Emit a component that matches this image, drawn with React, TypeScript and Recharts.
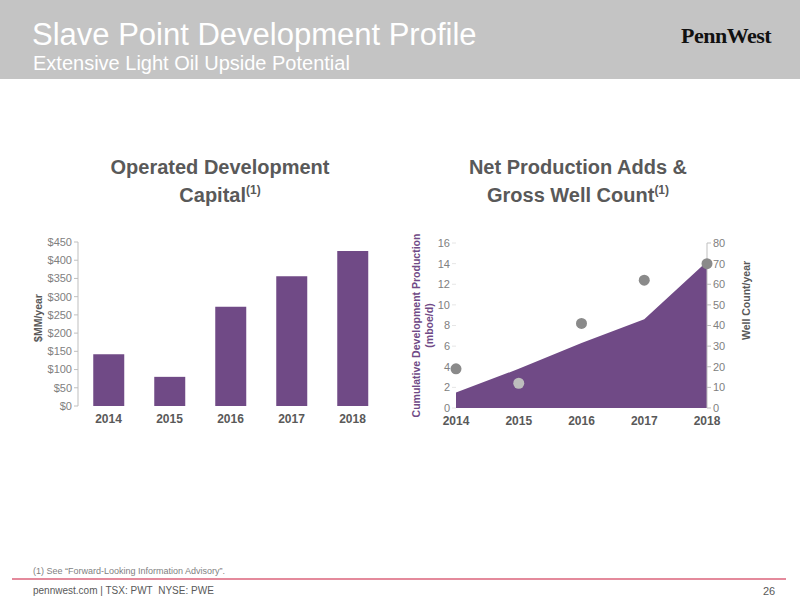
import React from "react";
import {
  BarChart, Bar, ComposedChart, Area, Line, XAxis, YAxis,
} from "recharts";

// values
const years = ["2014", "2015", "2016", "2017", "2018"];
const capitalMM = [142, 80, 272, 356, 425];
const productionMboe = [1.5, 3.8, 6.3, 8.6, 14.2];
const wellCount = [19, 12, 41, 62, 70];

const capitalTicks = [0, 50, 100, 150, 200, 250, 300, 350, 400, 450];
const prodTicks = [0, 2, 4, 6, 8, 10, 12, 14, 16];
const wellTicks = [0, 10, 20, 30, 40, 50, 60, 70, 80];

const PURPLE = "#704a86";
const TEXT = "#595959";
const TICK = "#808080";
const AXIS = "#bfbfbf";
const FONT = "'Liberation Sans', Arial, sans-serif";

const capitalData = years.map((y, i) => ({ year: y, capital: capitalMM[i] }));
const prodData = years.map((y, i) => ({ year: y, prod: productionMboe[i], wells: wellCount[i] }));

function WellDot(props: any) {
  const { cx, cy, index } = props;
  if (cx == null || cy == null) return null;
  const fill = index === 1 ? "#bdbdbd" : "#8a8a8a";
  return <circle key={index} cx={cx} cy={cy} r={5.5} fill={fill} />;
}

// rotated axis title, placed at a fixed x inside the chart svg
function SideLabel({ viewBox, posX, lines, color, dyShift = 0 }: any) {
  const cy = viewBox.y + viewBox.height / 2 + dyShift;
  return (
    <text
      transform={`translate(${posX}, ${cy}) rotate(-90)`}
      textAnchor="middle"
      fill={color}
      fontSize={10.5}
      fontWeight="bold"
      fontFamily={FONT}
    >
      {lines.map((l: string, i: number) => (
        <tspan key={i} x={0} dy={i === 0 ? (lines.length > 1 ? -2 : 4) : 13}>{l}</tspan>
      ))}
    </text>
  );
}

const titleStyle: React.CSSProperties = {
  position: "absolute",
  width: 320,
  textAlign: "center",
  color: TEXT,
  fontSize: 20,
  fontWeight: "bold",
  lineHeight: "23px",
  fontFamily: FONT,
};

export default function App() {
  return (
    <div style={{ position: "absolute", left: 0, top: 0, width: 800, height: 600, background: "#fff", fontFamily: FONT, overflow: "hidden" }}>
      {/* header band */}
      <div style={{ position: "absolute", left: 0, top: 0, width: 800, height: 79, background: "#c4c4c4" }} />
      <div style={{ position: "absolute", left: 32, top: 18, color: "#fff", fontSize: 31, lineHeight: "34px" }}>
        Slave Point Development Profile
      </div>
      <div style={{ position: "absolute", left: 33, top: 52, color: "#fff", fontSize: 20, lineHeight: "22px" }}>
        Extensive Light Oil Upside Potential
      </div>
      <div style={{ position: "absolute", left: 681, top: 23, color: "#111", fontSize: 22, fontWeight: "bold", fontFamily: "'Liberation Serif', 'DejaVu Serif', serif", letterSpacing: -0.5, lineHeight: "26px" }}>
        PennWest
      </div>

      {/* chart titles */}
      <div style={{ ...titleStyle, left: 60, top: 156 }}>
        Operated Development<br />Capital<sup style={{ fontSize: 12 }}>(1)</sup>
      </div>
      <div style={{ ...titleStyle, left: 418, top: 156 }}>
        Net Production Adds &amp;<br />Gross Well Count<sup style={{ fontSize: 12 }}>(1)</sup>
      </div>

      {/* left chart */}
      <div style={{ position: "absolute", left: 0, top: 230 }}>
        <BarChart
          width={400}
          height={200}
          data={capitalData}
          margin={{ top: 12, right: 17, bottom: 4, left: 28 }}
          barCategoryGap="25%"
        >
          <XAxis
            dataKey="year"
            axisLine={false}
            tickLine={false}
            height={20}
            tick={{ fill: TEXT, fontSize: 12, fontWeight: "bold", fontFamily: FONT }}
          />
          <YAxis
            width={50}
            domain={[0, 450]}
            ticks={capitalTicks}
            interval={0}
            tickFormatter={(v) => `$${v}`}
            stroke={AXIS}
            tickSize={4}
            tick={{ fill: TICK, stroke: "none", fontSize: 11, fontFamily: FONT }}
            label={<SideLabel posX={38} lines={["$MM/year"]} color={TEXT} dyShift={-6} />}
          />
          <Bar dataKey="capital" fill={PURPLE} isAnimationActive={false} />
        </BarChart>
      </div>

      {/* right chart */}
      <div style={{ position: "absolute", left: 400, top: 230 }}>
        <ComposedChart
          width={400}
          height={200}
          data={prodData}
          margin={{ top: 13, right: 53, bottom: 2, left: 10 }}
        >
          <XAxis
            dataKey="year"
            axisLine={false}
            tickLine={false}
            height={20}
            tick={{ fill: TEXT, fontSize: 12, fontWeight: "bold", fontFamily: FONT }}
          />
          <YAxis
            yAxisId="prod"
            width={46}
            domain={[0, 16]}
            ticks={prodTicks}
            interval={0}
            axisLine={false}
            tickLine={{ stroke: "#e6e6e6" }}
            tickSize={4}
            tick={{ fill: TICK, stroke: "none", fontSize: 11, fontFamily: FONT }}
            label={<SideLabel posX={22} lines={["Cumulative Development Production", "(mboe/d)"]} color={PURPLE} />}
          />
          <YAxis
            yAxisId="wells"
            orientation="right"
            width={40}
            domain={[0, 80]}
            ticks={wellTicks}
            interval={0}
            stroke={AXIS}
            tickSize={4}
            tick={{ fill: TICK, stroke: "none", fontSize: 11, fontFamily: FONT }}
            label={<SideLabel posX={346} lines={["Well Count/year"]} color={TEXT} dyShift={-25} />}
          />
          <Area
            yAxisId="prod"
            type="linear"
            dataKey="prod"
            stroke="none"
            fill={PURPLE}
            fillOpacity={1}
            isAnimationActive={false}
          />
          <Line
            yAxisId="wells"
            type="linear"
            dataKey="wells"
            stroke="none"
            dot={<WellDot />}
            activeDot={false}
            isAnimationActive={false}
          />
        </ComposedChart>
      </div>

      {/* footer */}
      <div style={{ position: "absolute", left: 33, top: 565, color: "#7f7f7f", fontSize: 9, lineHeight: "12px" }}>
        (1) See “Forward-Looking Information Advisory”.
      </div>
      <div style={{ position: "absolute", left: 12, top: 578, width: 774, height: 2, background: "#e48a9c" }} />
      <div style={{ position: "absolute", left: 33, top: 584, color: TEXT, fontSize: 10, lineHeight: "14px" }}>
        pennwest.com | TSX: PWT&nbsp; NYSE: PWE
      </div>
      <div style={{ position: "absolute", left: 763, top: 584, color: TEXT, fontSize: 11, lineHeight: "14px" }}>
        26
      </div>
    </div>
  );
}
